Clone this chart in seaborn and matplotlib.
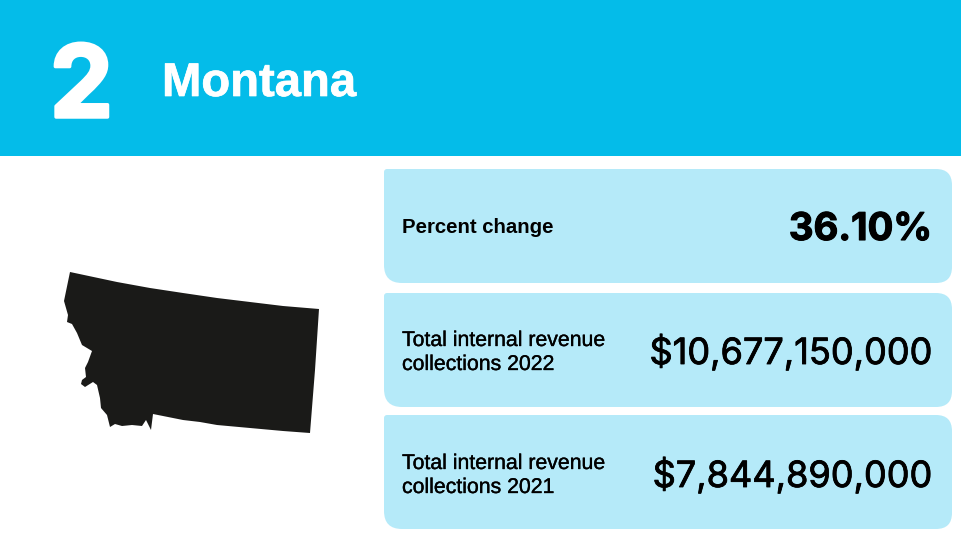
import matplotlib.pyplot as plt
import matplotlib.patheffects as pe
from matplotlib.patches import PathPatch, Polygon, Rectangle
from matplotlib.path import Path
import seaborn as sns

rank = "2"
state = "Montana"
card_labels = ["Percent change", "Total internal revenue\ncollections 2022", "Total internal revenue\ncollections 2021"]
card_values = ["36.10%", "$10,677,150,000", "$7,844,890,000"]

# outline, in pixels
state_x = [70, 117, 150, 183, 217, 250, 283, 319, 315, 310, 283, 250, 217, 200, 183, 153,
           151, 146, 142, 132, 122, 115, 110, 107, 101, 100, 97, 93, 85, 81, 82, 86, 85, 88, 92, 82, 77, 72, 67, 68, 64]
state_y = [272, 282, 288, 293, 298, 302, 306, 309, 370, 433, 431, 428, 425, 422, 420, 414,
           430, 420, 426, 425, 426, 424, 427, 415, 408, 398, 385, 382, 387, 384, 380, 377, 368, 362, 351, 345, 333, 324, 322, 315, 301]

card_tops = [169, 293, 415]
card_bottoms = [283, 407, 529]
label_base = [233, 346, 469]
value_base = [240, 364, 487]

BANNER = "#04BCE9"
CARD = "#B5EAF9"
DARK = "#1A1A18"


def card_path(x0, y0, x1, y1, tl, tr, br, bl):
    # rounded box, each corner with its own radius
    verts = [(x0 + tl, y0), (x1 - tr, y0), (x1, y0), (x1, y0 + tr), (x1, y1 - br), (x1, y1),
             (x1 - br, y1), (x0 + bl, y1), (x0, y1), (x0, y1 - bl), (x0, y0 + tl), (x0, y0), (x0 + tl, y0)]
    codes = [Path.MOVETO, Path.LINETO, Path.CURVE3, Path.CURVE3, Path.LINETO, Path.CURVE3,
             Path.CURVE3, Path.LINETO, Path.CURVE3, Path.CURVE3, Path.LINETO, Path.CURVE3, Path.CURVE3]
    return Path(verts, codes)


def thicken(color, width):
    return [pe.withStroke(linewidth=width, foreground=color)]


sns.set_theme(style="white")
fig = plt.figure(figsize=(9.62, 5.5), dpi=100)
ax = fig.add_axes([0, 0, 1, 1])
ax.set_xlim(0, 962)
ax.set_ylim(550, 0)
ax.axis("off")

ax.add_patch(Rectangle((0, 0), 962, 156, color=BANNER, lw=0))
ax.text(50, 117, rank, color="white", fontsize=72, family="Inter", weight="bold", va="baseline",
        path_effects=thicken("white", 2.5))
ax.text(162, 96, state, color="white", fontsize=34, family="Liberation Sans", weight="bold", va="baseline",
        path_effects=thicken("white", 0.5))

ax.add_patch(Polygon(list(zip(state_x, state_y)), closed=True, color=DARK, lw=0))

for i in range(3):
    ax.add_patch(PathPatch(card_path(384, card_tops[i], 952, card_bottoms[i], 3, 16, 16, 18), color=CARD, lw=0))
    if i == 0:
        ax.text(402, label_base[i], card_labels[i], color="black", fontsize=14.7, family="Liberation Sans", weight="bold", va="baseline")
        ax.text(932, value_base[i], card_values[i], color="black", fontsize=27.5, family="Inter", weight="bold", ha="right", va="baseline",
                path_effects=thicken("black", 0.8))
    else:
        first, second = card_labels[i].split("\n")
        ax.text(402, label_base[i], first, color="black", fontsize=15.3, family="Liberation Sans", va="baseline",
                path_effects=thicken("black", 0.25))
        ax.text(402, label_base[i] + 24, second, color="black", fontsize=15.3, family="Liberation Sans", va="baseline",
                path_effects=thicken("black", 0.25))
        ax.text(932, value_base[i], card_values[i], color="black", fontsize=26, family="Inter", ha="right", va="baseline",
                path_effects=thicken("black", 0.6))

fig.savefig("out.png", dpi=100)
